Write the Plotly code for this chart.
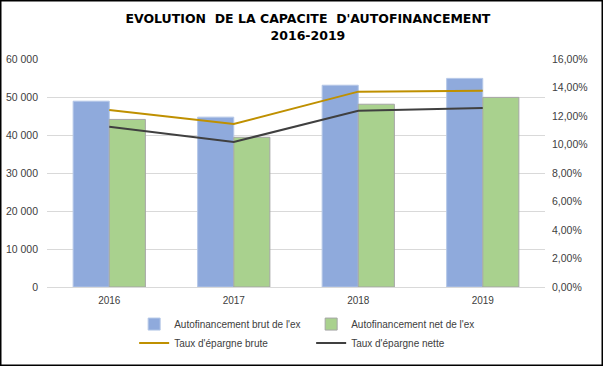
import plotly.graph_objects as go

years = ["2016", "2017", "2018", "2019"]
brut = [48900, 44700, 53100, 54900]
net = [44100, 39400, 48100, 49900]
taux_brute = [0.1242, 0.1144, 0.1371, 0.1378]
taux_nette = [0.1125, 0.1018, 0.1237, 0.1256]

W, H = 603, 366
ml, mr, mt, mb = 47, 58, 59, 79

fig = go.Figure()
fig.add_trace(go.Bar(x=years, y=brut, name="Autofinancement brut de l'ex",
                     marker=dict(color="#8FAADC", line=dict(color="#B4C7E7", width=1))))
fig.add_trace(go.Bar(x=years, y=net, name="Autofinancement net de l'ex",
                     marker=dict(color="#A9D18E", line=dict(color="#A5A5A5", width=1))))
fig.add_trace(go.Scatter(x=years, y=taux_brute, name="Taux d'épargne brute", yaxis="y2",
                         mode="lines", line=dict(color="#BF9000", width=2)))
fig.add_trace(go.Scatter(x=years, y=taux_nette, name="Taux d'épargne nette", yaxis="y2",
                         mode="lines", line=dict(color="#404040", width=2)))

pw = W - ml - mr
ph = H - mt - mb
fig.update_layout(
    width=W, height=H,
    margin=dict(l=ml, r=mr, t=mt, b=mb, autoexpand=False),
    paper_bgcolor="white", plot_bgcolor="white",
    separators=", ",
    font=dict(family="Liberation Sans, Arial", size=10, color="#595959"),
    title=dict(text="EVOLUTION  DE LA CAPACITE  D'AUTOFINANCEMENT<br>2016-2019",
               x=0.524, xref="paper", y=0.936, yanchor="top",
               font=dict(family="DejaVu Sans", size=12.5, color="black", weight="bold")),
    barmode="group", bargap=0.42, bargroupgap=0,
    xaxis=dict(showgrid=False, showline=True, linecolor="#D9D9D9", ticks="",
               ticklabelstandoff=4, tickfont=dict(size=10, color="#404040")),
    yaxis=dict(range=[0, 60000], dtick=10000, tickformat=",d", showgrid=True,
               gridcolor="#D9D9D9", zeroline=False, ticks="", ticklabelstandoff=8,
               tickfont=dict(size=10.5, color="#404040")),
    yaxis2=dict(range=[0, 0.16], dtick=0.02, tickformat=".2%", overlaying="y", side="right",
                showgrid=False, zeroline=False, ticks="", ticklabelstandoff=6,
                tickfont=dict(size=10.5, color="#404040")),
    legend=dict(orientation="h", x=0.175, xanchor="left", y=-0.099, yanchor="top",
                entrywidth=132, entrywidthmode="pixels", traceorder="normal",
                font=dict(size=10, color="#404040"), itemwidth=30, tracegroupgap=0),
    showlegend=True,
    shapes=[dict(type="rect", xref="paper", yref="paper",
                 x0=-ml / pw + 0.75 / pw, x1=1 + mr / pw - 0.75 / pw,
                 y0=-mb / ph + 0.75 / ph, y1=1 + mt / ph - 0.75 / ph,
                 line=dict(color="black", width=1.5), fillcolor="rgba(0,0,0,0)", layer="below")],
)
fig.write_html("out.html", post_script="document.body.style.margin='0';",
               config={"displayModeBar": False})
